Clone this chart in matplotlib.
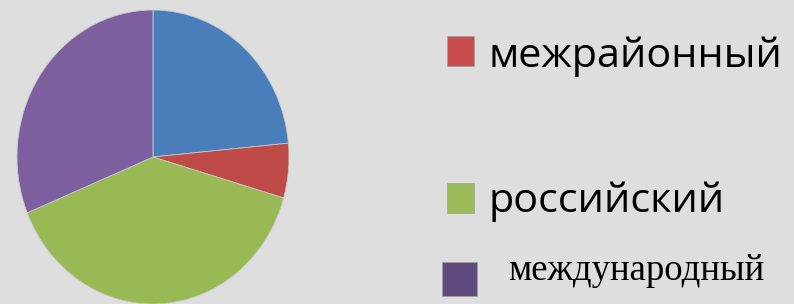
import matplotlib.pyplot as plt
from matplotlib.patches import Rectangle

labels = ['местный', 'межрайонный', 'российский', 'международный']
values = [23.5, 6.0, 39.3, 31.2]
colors = ['#4a7ebb', '#be4b48', '#98b954', '#7d5fa0']
legend_colors = ['#c94c4c', '#9bbb59', '#5f4a7e']

W, H = 794, 304
fig = plt.figure(figsize=(W / 100, H / 100), dpi=100)
fig.patch.set_facecolor('#dedede')

# pie sits in the left part, slightly taller than wide
cx, cy, rx, ry = 153, 147, 136, 147
ax = fig.add_axes([(cx - rx) / W, (cy - ry) / H, 2 * rx / W, 2 * ry / H])
ax.pie(values, colors=colors, startangle=90, counterclock=False,
       wedgeprops=dict(edgecolor='#c8c8c8', linewidth=0.6))
ax.set_aspect('auto')
ax.set_xlim(-1, 1)
ax.set_ylim(-1, 1)
ax.axis('off')

def px(x, y):
    return x / W, 1 - y / H

# legend (only the last three entries are visible)
sq = [(447, 36, 27, 30), (447, 183, 27, 30), (442, 262, 35, 34)]
for (x, y, w, h), c in zip(sq, legend_colors):
    fig.add_artist(Rectangle(px(x, y + h), w / W, h / H, transform=fig.transFigure,
                             facecolor=c, edgecolor='#a0a0a0', linewidth=0.5))

fig.text(*px(488, 67), labels[1], fontsize=29.8, family='Open Sans', va='baseline')
fig.text(*px(488, 212), labels[2], fontsize=29.8, family='Open Sans', va='baseline')
fig.text(*px(508, 280), labels[3], fontsize=26.5, family='Liberation Serif', va='baseline')

fig.savefig('out.png', dpi=100, facecolor=fig.get_facecolor())
